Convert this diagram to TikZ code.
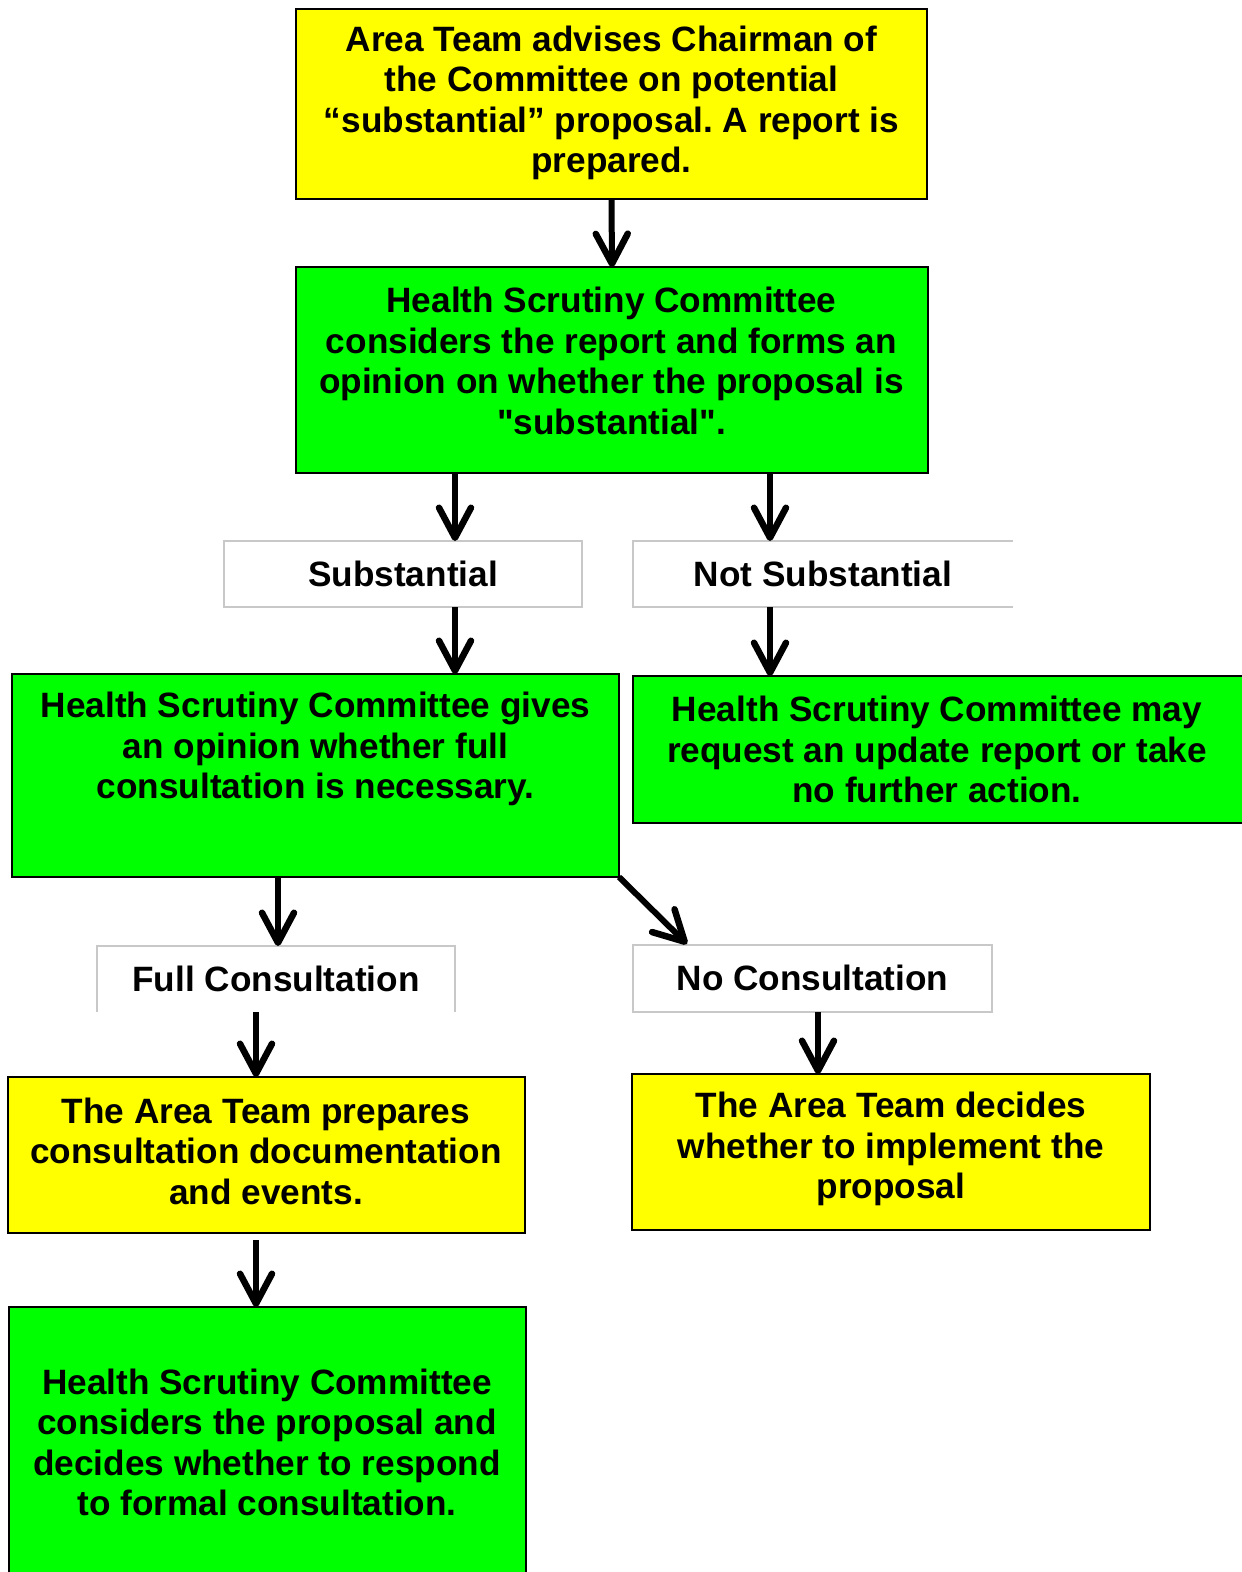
\documentclass[tikz,border=0pt]{standalone}
\usepackage{fontspec}
\setmainfont{Liberation Sans}
\usetikzlibrary{arrows.meta}
\frenchspacing
\definecolor{boxyellow}{RGB}{255,255,0}
\definecolor{boxgreen}{RGB}{0,255,0}
\definecolor{lblgray}{RGB}{200,200,200}
\tikzset{
  box/.style={draw=black, line width=2pt, inner sep=0pt, outer sep=0pt},
  ybox/.style={box, fill=boxyellow},
  gbox/.style={box, fill=boxgreen},
  lbl/.style={fill=white, inner sep=0pt, outer sep=0pt},
  txt/.style={align=center, inner sep=0pt, font=\fontsize{35.2}{40.5}\selectfont\bfseries},
  arr/.style={line width=6pt, -{Straight Barb[length=30pt, width=32pt, line width=6.5pt, line cap=round, line join=round]}}
}
\begin{document}
\begin{tikzpicture}[x=1pt, y=-1pt]
    \useasboundingbox (0,0) rectangle (1242,1572);
    \clip (0,0) rectangle (1242,1572);
    % boxes
    \node[ybox, minimum width=631pt, minimum height=190pt] (advise) at (611.5,104) {};
    \node[gbox, minimum width=632pt, minimum height=206pt] (hsc) at (612,370) {};
    \node[lbl, draw=lblgray, line width=1.5pt, minimum width=358pt, minimum height=66pt] (subst) at (403,574) {};
    \node[lbl, minimum width=380pt, minimum height=66pt] (notsubst) at (823,574) {};
    \node[gbox, minimum width=607pt, minimum height=203pt] (gives) at (315.5,775.5) {};
    \node[gbox, minimum width=617pt, minimum height=147pt] (may) at (941.5,749.5) {};
    \node[lbl, minimum width=358pt, minimum height=66pt] (full) at (276,979) {};
    \node[lbl, draw=lblgray, line width=1.5pt, minimum width=359pt, minimum height=67pt] (nocons) at (812.5,978.5) {};
    \node[ybox, minimum width=517pt, minimum height=156pt] (prep) at (266.5,1155) {};
    \node[ybox, minimum width=518pt, minimum height=156pt] (decides) at (891,1152) {};
    \node[gbox, minimum width=517pt, minimum height=293pt] (respond) at (267.5,1453.5) {};
    % open label borders
    \draw[lblgray, line width=1.5pt]
        (notsubst.north east) -- (notsubst.north west) -- (notsubst.south west) -- (notsubst.south east)
        (full.south west) -- (full.north west) -- (full.north east) -- (full.south east);
    % texts
    \node[txt] (advisetxt) at (611.5,103) {Area Team advises Chairman of\\the Committee on potential\\“substantial” proposal. A report is\\prepared.};
    \node[txt] (hsctxt) at (611.5,361) {Health Scrutiny Committee\\considers the report and forms an\\opinion on whether the proposal is\\\textquotedbl substantial\textquotedbl.};
    \node[txt] (substtxt) at (403,574) {Substantial};
    \node[txt] (notsubsttxt) at (823,574) {Not Substantial};
    \node[txt] (givestxt) at (315.5,749) {Health Scrutiny Committee gives\\an opinion whether full\\consultation is necessary.};
    \node[txt] (maytxt) at (937,749.5) {Health Scrutiny Committee may\\request an update report or take\\no further action.};
    \node[txt] (fulltxt) at (276,979) {Full Consultation};
    \node[txt] (noconstxt) at (812.5,978) {No Consultation};
    \node[txt] (preptxt) at (266,1151) {The Area Team prepares\\consultation documentation\\and events.};
    \node[txt] (decidestxt) at (891,1149) {The Area Team decides\\whether to implement the\\proposal};
    \node[txt] (respondtxt) at (267,1442.5) {Health Scrutiny Committee\\considers the proposal and\\decides whether to respond\\to formal consultation.};
    % arrow columns
    \coordinate (colA) at (455,0);
    \coordinate (colB) at (770,0);
    \coordinate (colC) at (278,0);
    \coordinate (colD) at (256,0);
    \coordinate (colE) at (818,0);
    \coordinate (diagend) at (687,944);
    % arrows
    \draw[arr] (advise.south) -- (hsc.north);
    \draw[arr] (hsc.south -| colA) -- (subst.north -| colA);
    \draw[arr] (hsc.south -| colB) -- (notsubst.north -| colB);
    \draw[arr] (subst.south -| colA) -- (gives.north -| colA);
    \draw[arr] (notsubst.south -| colB) -- (may.north -| colB);
    \draw[arr] (gives.south -| colC) -- (full.north -| colC);
    \draw[arr] (gives.south east) -- (diagend);
    \draw[arr] (full.south -| colD) -- (prep.north -| colD);
    \draw[arr] (nocons.south -| colE) -- (decides.north -| colE);
    \draw[arr] ([yshift=-7pt]prep.south -| colD) -- (respond.north -| colD);
\end{tikzpicture}
\end{document}
